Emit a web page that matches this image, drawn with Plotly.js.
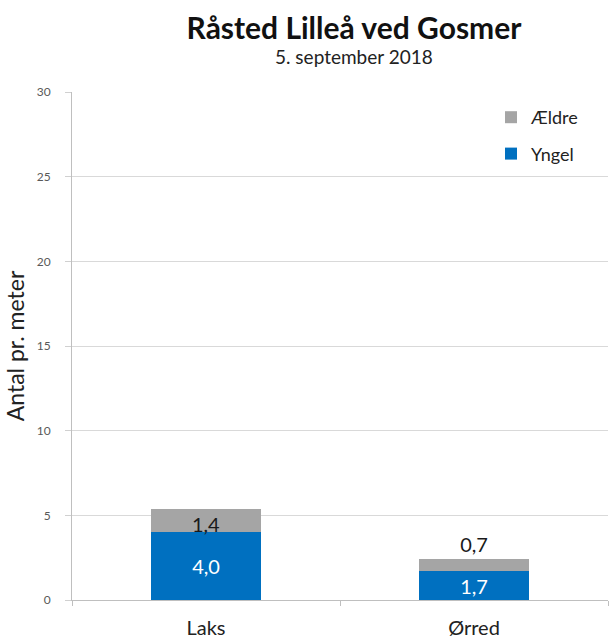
<!DOCTYPE html>
<html><head><meta charset="utf-8">
<script src="https://cdn.plot.ly/plotly-3.0.1.min.js"></script>
<style>html,body{margin:0;padding:0;background:#fff;}</style>
</head><body>
<div id="chart" style="width:609px;height:644px;"></div>
<script>
const categories = ["Laks", "Ørred"];
const yngel = [4.0, 1.7];
const aeldre = [1.4, 0.7];
const seriesNames = ["Yngel", "Ældre"];
const yTicks = [0, 5, 10, 15, 20, 25, 30];

const FONT = "Lato, Open Sans, sans-serif";

const traces = [
  {
    type: "bar", name: seriesNames[0], x: categories, y: yngel,
    marker: {color: "#0070C0"},
    texttemplate: "%{y:.1f}", textposition: "inside", insidetextanchor: "middle",
    textfont: {color: "#ffffff", size: 20, family: FONT},
    constraintext: "none", hoverinfo: "skip", legendrank: 2, legendgroup: "g2"
  },
  {
    type: "bar", name: seriesNames[1], x: categories, y: aeldre,
    marker: {color: "#A5A5A5"},
    texttemplate: "%{y:.1f}", textposition: ["inside", "outside"], insidetextanchor: "end",
    textfont: {color: "#1a1a1a", size: 20, family: FONT},
    constraintext: "none", cliponaxis: false, hoverinfo: "skip", legendrank: 1, legendgroup: "g1"
  }
];

const layout = {
  width: 609, height: 644,
  margin: {l: 72, r: 1, t: 92, b: 44},
  barmode: "stack", bargap: 0.59,
  separators: ",.",
  paper_bgcolor: "#ffffff", plot_bgcolor: "#ffffff",
  font: {family: FONT, color: "#333"},
  title: {
    text: "<b>Råsted Lilleå ved Gosmer</b>",
    font: {size: 30, family: FONT, color: "#111"},
    x: 354/609, xanchor: "center", xref: "container",
    y: 1 - 28/644, yanchor: "middle", yref: "container"
  },
  annotations: [{
    text: "5. september 2018", showarrow: false,
    xref: "paper", yref: "paper", x: (354-72)/536, y: (600-57)/508,
    xanchor: "center", yanchor: "middle",
    font: {size: 19, family: FONT, color: "#222"}
  }],
  xaxis: {
    type: "category", showline: true, linecolor: "#BFBFBF", linewidth: 1,
    ticks: "outside", tickson: "boundaries", ticklen: 5, tickcolor: "#BFBFBF",
    ticklabelstandoff: 10,
    tickfont: {size: 20, family: FONT, color: "#222"},
    showgrid: false, zeroline: false, fixedrange: true
  },
  yaxis: {
    range: [0, 30], tickvals: yTicks, ticktext: yTicks.map(String),
    showline: true, linecolor: "#BFBFBF", linewidth: 1,
    ticks: "outside", ticklen: 6, tickcolor: "#D0D0D0",
    ticklabelstandoff: 12,
    showgrid: true, gridcolor: "#D9D9D9", gridwidth: 1, zeroline: false,
    tickfont: {size: 12, family: FONT, color: "#595959"},
    title: {text: "Antal pr. meter", font: {size: 23, family: FONT, color: "#222"}, standoff: 5}
  },
  showlegend: true,
  legend: {
    x: (491-72)/536, y: (600-99)/508, xanchor: "left", yanchor: "top",
    traceorder: "grouped", tracegroupgap: 10,
    font: {size: 18, family: FONT, color: "#222"},
    bgcolor: "rgba(0,0,0,0)", itemwidth: 30
  }
};

Plotly.newPlot("chart", traces, layout, {displayModeBar: false, staticPlot: true});
</script>
</body></html>
